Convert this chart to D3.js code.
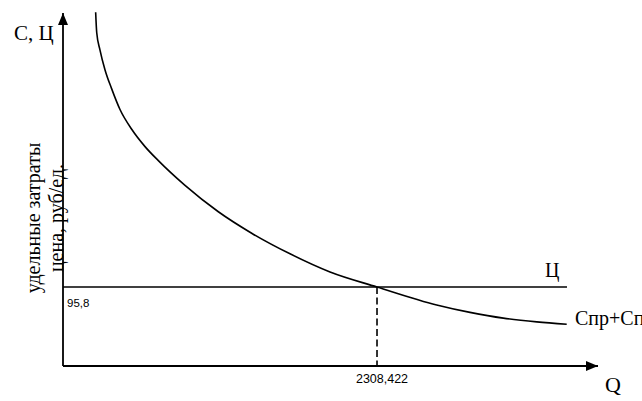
<!DOCTYPE html>
<html>
<head>
<meta charset="utf-8">
<script src="https://cdn.jsdelivr.net/npm/d3@7"></script>
<style>
  html, body { margin: 0; padding: 0; background: #fff; }
  svg { display: block; }
</style>
</head>
<body>
<svg id="chart" width="642" height="401"></svg>
<script>
// Cost curve (Спр+Сп): Q (units) and C (rub/unit)
const curveQ = [240, 248, 272, 309, 358, 419, 505, 603, 701, 897, 1142, 1387, 1669, 1963, 2308.422, 2747, 2992, 3237, 3483, 3703];
const curveC = [429, 404, 383, 359, 336, 311, 287, 266, 249, 219, 187, 161, 136, 114, 95.8, 74, 65, 58, 53.5, 50.6];
// Price line (Ц)
const priceValue = 95.8;
const priceEndQ = 3705;
// Break-even point
const breakEvenQ = 2308.422;
// Labels
const priceTickLabel = "95,8";
const qTickLabel = "2308,422";
const yAxisTitle = ["удельные затраты", "цена, руб/ед."];
const yAxisName = "С, Ц";
const xAxisName = "Q";
const priceName = "Ц";
const costName = "Спр+Сп";
const domainQ = [0, 3933];
const domainC = [0, 428];

const svg = d3.select("#chart");
const x = d3.scaleLinear().domain(domainQ).range([63, 598]);
const y = d3.scaleLinear().domain(domainC).range([366, 13]);

const defs = svg.append("defs");
defs.append("marker")
  .attr("id", "arrow")
  .attr("viewBox", "0 0 12 10")
  .attr("refX", 12).attr("refY", 5)
  .attr("markerWidth", 12).attr("markerHeight", 10)
  .attr("markerUnits", "userSpaceOnUse")
  .attr("orient", "auto")
  .append("path").attr("d", "M0,0 L12,5 L0,10 Z").attr("fill", "#000");

// axes
svg.append("line")
  .attr("x1", x(0)).attr("y1", y(0)).attr("x2", x(0)).attr("y2", y(domainC[1]))
  .attr("stroke", "#000").attr("stroke-width", 1.8).attr("marker-end", "url(#arrow)");
svg.append("line")
  .attr("x1", x(0)).attr("y1", y(0)).attr("x2", x(domainQ[1])).attr("y2", y(0))
  .attr("stroke", "#000").attr("stroke-width", 1.8).attr("marker-end", "url(#arrow)");

// price line
svg.append("line")
  .attr("x1", x(0)).attr("y1", y(priceValue)).attr("x2", x(priceEndQ)).attr("y2", y(priceValue))
  .attr("stroke", "#000").attr("stroke-width", 1.6);

// dashed drop line
svg.append("line")
  .attr("x1", x(breakEvenQ)).attr("y1", y(priceValue)).attr("x2", x(breakEvenQ)).attr("y2", y(0))
  .attr("stroke", "#000").attr("stroke-width", 1.6).attr("stroke-dasharray", "7,3.5");

// cost curve
const pts = curveQ.map((q, i) => [q, curveC[i]]);
const line = d3.line().x(d => x(d[0])).y(d => y(d[1])).curve(d3.curveMonotoneX);
svg.append("path").datum(pts).attr("d", line)
  .attr("fill", "none").attr("stroke", "#000").attr("stroke-width", 1.6);

const serif = "'Liberation Serif', 'Times New Roman', serif";
const sans = "'Liberation Sans', Arial, sans-serif";

svg.append("text").attr("x", 14).attr("y", 40).attr("font-family", serif).attr("font-size", 21).text(yAxisName);
svg.append("text").attr("x", 605).attr("y", 392).attr("font-family", serif).attr("font-size", 22).text(xAxisName);
svg.append("text").attr("x", 545).attr("y", 277).attr("font-family", serif).attr("font-size", 20).text(priceName);
svg.append("text").attr("x", 575).attr("y", 325).attr("font-family", serif).attr("font-size", 20).text(costName);

svg.append("text").attr("x", x(0) + 4).attr("y", y(priceValue) + 20)
  .attr("font-family", sans).attr("font-size", 11.5).text(priceTickLabel);
svg.append("text").attr("x", x(breakEvenQ) + 5).attr("y", y(0) + 17).attr("text-anchor", "middle")
  .attr("font-family", sans).attr("font-size", 12.5).text(qTickLabel);

const yt = svg.append("text").attr("transform", "translate(40,218) rotate(-90)")
  .attr("font-family", serif).attr("font-size", 20).attr("text-anchor", "middle");
yt.append("tspan").attr("x", 0).attr("y", 0).text(yAxisTitle[0]);
yt.append("tspan").attr("x", 0).attr("y", 23).text(yAxisTitle[1]);
</script>
</body>
</html>
